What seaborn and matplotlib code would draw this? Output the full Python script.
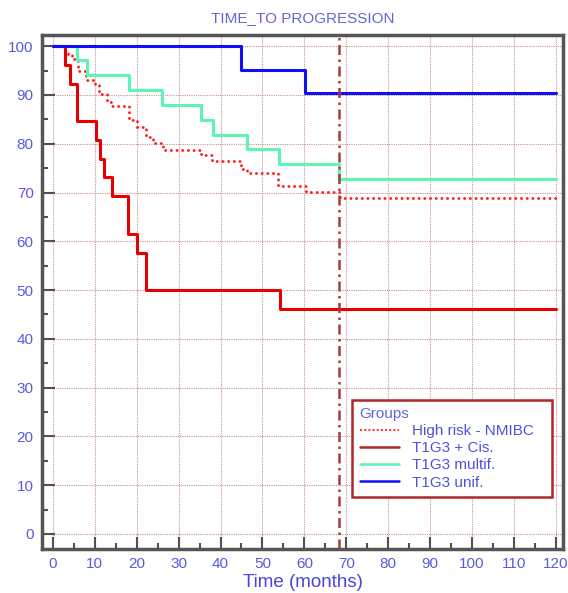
import numpy as np
import pandas as pd
import matplotlib
matplotlib.use("Agg")
import matplotlib.pyplot as plt
from matplotlib.lines import Line2D
import seaborn as sns

groups = ["High risk - NMIBC", "T1G3 + Cis.", "T1G3 multif.", "T1G3 unif."]

hr_time = [0, 2.9, 3.7, 4.5, 5.9, 8.0, 10.0, 11.1, 12.8, 14.0, 18.2, 20.0, 22.2, 24.0,
           26.2, 35.1, 36.3, 37.9, 45.0, 46.2, 53.8, 60.5, 68.4, 120]
hr_surv = [100, 99.0, 98.2, 97.3, 94.9, 93.0, 92.0, 90.3, 88.6, 87.7, 84.8, 83.5, 81.4, 80.2,
           78.7, 78.0, 77.7, 76.4, 74.9, 74.0, 71.4, 70.2, 68.8, 68.8]

cis_time = [0, 2.9, 4.0, 5.8, 10.3, 11.2, 12.2, 14.2, 18.0, 20.0, 22.1, 54.2, 120]
cis_surv = [100, 96.2, 92.3, 84.6, 80.8, 76.9, 73.1, 69.2, 61.5, 57.7, 50.0, 46.2, 46.2]

mul_time = [0, 5.7, 8.1, 18.1, 26.1, 35.3, 38.1, 46.2, 54.0, 68.2, 120]
mul_surv = [100, 97.1, 94.0, 91.1, 88.0, 84.8, 81.8, 78.9, 75.8, 72.7, 72.7]

uni_time = [0, 45.0, 60.1, 120]
uni_surv = [100, 95.2, 90.5, 90.5]

median_followup = 68.2

x_ticks = list(range(0, 121, 10))
y_ticks = list(range(0, 101, 10))

frames = []
for g, t, s in zip(groups, [hr_time, cis_time, mul_time, uni_time],
                   [hr_surv, cis_surv, mul_surv, uni_surv]):
    frames.append(pd.DataFrame({"time": t, "surv": s, "group": g}))
df = pd.concat(frames, ignore_index=True)

sns.set_theme(style="white")
plt.rcParams["font.family"] = ["Liberation Sans", "DejaVu Sans"]

colors = {"High risk - NMIBC": "#ff2020", "T1G3 + Cis.": "#e80000",
          "T1G3 multif.": "#5cf5b4", "T1G3 unif.": "#1010f0"}
legend_colors = ["#ff4040", "#b02828", "#5cf5b4", "#1010f0"]

fig = plt.figure(figsize=(5.68, 5.93), dpi=100)
ax = fig.add_axes([0.074, 0.074, 0.917, 0.867])

for g in groups:
    sub = df[df["group"] == g]
    if g == "High risk - NMIBC":
        kw = dict(linestyle=(0, (0.05, 1.9)), linewidth=2.1, dash_capstyle="round")
    else:
        kw = dict(linestyle="-", linewidth=2.2)
    sns.lineplot(data=sub, x="time", y="surv", color=colors[g], drawstyle="steps-post",
                 estimator=None, ax=ax, legend=False, zorder=3, **kw)

ax.axvline(median_followup, color="#a83c3c", lw=1.8, linestyle=(0, (4, 1.8, 1, 1.8)), zorder=4)

ax.set_xlim(-2.6, 121.7)
ax.set_ylim(-3.1, 102.3)
ax.set_xticks(x_ticks)
ax.set_yticks(y_ticks)
ax.set_xticks(list(range(5, 121, 10)), minor=True)
ax.set_yticks(list(range(5, 101, 10)), minor=True)
ax.grid(True, which="major", color="#c89494", linestyle=(0, (1, 1)), linewidth=0.8, zorder=0)
ax.tick_params(which="major", direction="in", length=9, width=1.5, color="#505050",
               labelcolor="#5a5ae0", labelsize=11, left=True, bottom=True, pad=6)
ax.tick_params(which="minor", direction="in", length=4, width=1.5, color="#505050",
               left=True, bottom=True)
for side in ["left", "bottom", "top", "right"]:
    ax.spines[side].set_color("#555555")
    ax.spines[side].set_linewidth(2.5)

ax.set_xlabel("Time (months)", fontsize=13.5, color="#4646dc", labelpad=2)
ax.set_ylabel("")
ax.set_title("TIME_TO PROGRESSION", fontsize=11, color="#6464d8", pad=9)

handles = [Line2D([], [], color=legend_colors[0], lw=1.5, linestyle=(0, (1, 1))),
           Line2D([], [], color=legend_colors[1], lw=1.8),
           Line2D([], [], color=legend_colors[2], lw=1.8),
           Line2D([], [], color=legend_colors[3], lw=1.8)]
leg = ax.legend(handles, groups, title="Groups", loc="lower left",
                bbox_to_anchor=(0.595, 0.101, 0.384, 0.208), mode="expand",
                fancybox=False, framealpha=1, edgecolor="#b02828", fontsize=11,
                title_fontsize=11, handlelength=2.6, labelspacing=0.2,
                borderpad=0.5, alignment="left", borderaxespad=0)
leg.get_frame().set_linewidth(1.8)
leg.get_title().set_color("#6464d8")
for txt in leg.get_texts():
    txt.set_color("#5050e0")

fig.savefig("out.png", dpi=100)
